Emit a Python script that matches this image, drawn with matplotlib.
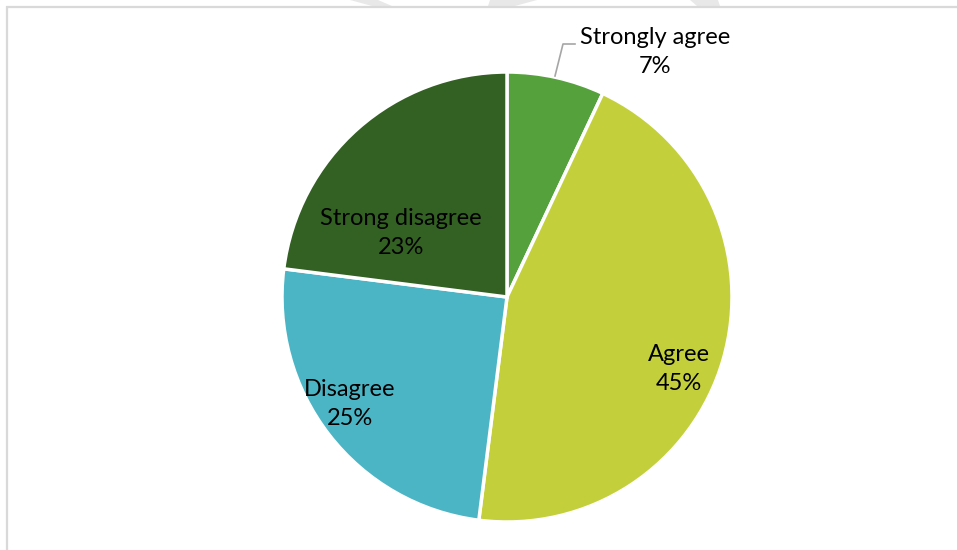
import matplotlib.pyplot as plt
from matplotlib.patches import Polygon

labels = ['Strongly agree', 'Agree', 'Disagree', 'Strong disagree']
shares = [7, 45, 25, 23]
colors = ['#55a13b', '#c3d03c', '#4bb5c5', '#336023']

plt.rcParams['font.family'] = ['Lato', 'DejaVu Sans']

W, H = 957, 550
fig = plt.figure(figsize=(W / 100, H / 100), dpi=100)
ax = fig.add_axes([0, 0, 1, 1])

# faint watermark shapes at the top edge
for pts in [[(350, 550), (378, 550), (392, 544), (372, 544)],
            [(490, 550), (537, 550), (515, 544), (488, 544)],
            [(690, 550), (718, 550), (720, 544), (697, 544)]]:
    ax.add_patch(Polygon(pts, closed=True, color='#e8e8e8', lw=0))

# chart border (top and left)
ax.plot([6, W], [H - 6.5, H - 6.5], color='#d9d9d9', lw=1.6, solid_capstyle='butt')
ax.plot([6.5, 6.5], [0, H - 6], color='#d9d9d9', lw=1.6, solid_capstyle='butt')

cx, cy, r = 507, H - 297, 225
wedges, _ = ax.pie(shares, colors=colors, startangle=90, counterclock=False,
                   center=(cx, cy), radius=r, frame=True,
                   wedgeprops=dict(edgecolor='white', linewidth=2.5))
ax.set_xlim(0, W)
ax.set_ylim(0, H)
ax.set_aspect('equal')
ax.axis('off')

fs = 17
pos = {
    'Strongly agree': (655, 52),
    'Agree': (679, 369),
    'Disagree': (350, 404),
    'Strong disagree': (401, 233),
}
for lab, val in zip(labels, shares):
    x, y = pos[lab]
    ax.text(x, H - y, f'{lab}\n{val}%', ha='center', va='center',
            fontsize=fs, color='black', linespacing=1.45)

# leader line for the small slice
ax.plot([555, 563, 575], [H - 76, H - 44, H - 44], color='#a6a6a6', lw=1.2)

fig.savefig('out.png', dpi=100, facecolor='white')
